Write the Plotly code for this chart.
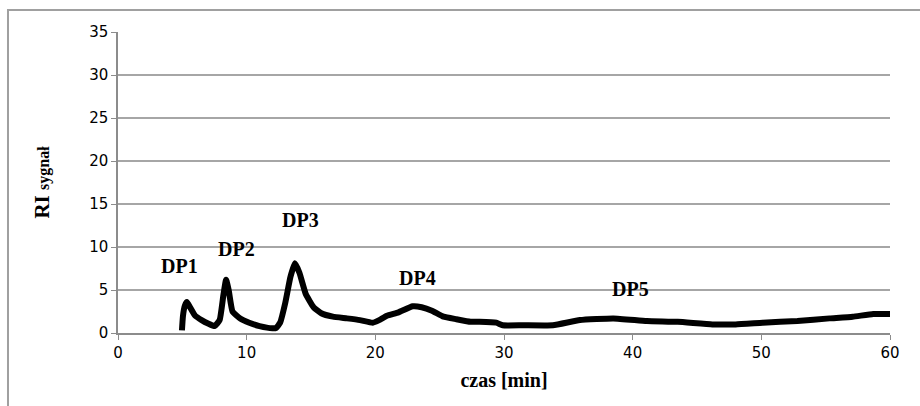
import plotly.graph_objects as go

czas = [4.97, 5.05, 5.2, 5.36, 5.6, 6.0, 6.5, 7.0, 7.5, 7.9, 8.2, 8.4, 8.6, 8.9, 9.5, 10.2, 11.0, 12.0, 12.3, 12.6, 13.0, 13.4, 13.75, 14.1, 14.6, 15.2, 15.8, 16.7, 17.8, 18.8, 19.8, 20.3, 20.9, 21.8, 22.9, 23.6, 24.4, 25.3, 26.3, 27.4, 28.1, 29.4, 29.9, 31.5, 33.8, 35.9, 38.5, 41.1, 43.5, 46.2, 48.0, 50.1, 52.8, 55.3, 57.1, 58.7, 60.0]
sygnal = [0.3, 2.0, 3.2, 3.6, 3.0, 2.0, 1.5, 1.1, 0.8, 1.5, 4.5, 6.2, 5.0, 2.5, 1.7, 1.2, 0.8, 0.55, 0.6, 1.2, 3.5, 6.5, 8.1, 7.0, 4.5, 3.0, 2.3, 1.9, 1.7, 1.5, 1.2, 1.5, 2.0, 2.4, 3.1, 3.0, 2.6, 1.9, 1.6, 1.3, 1.3, 1.2, 0.9, 0.9, 0.9, 1.5, 1.7, 1.4, 1.3, 1.0, 1.0, 1.2, 1.4, 1.7, 1.9, 2.2, 2.2]

etykiety = ["DP1", "DP2", "DP3", "DP4", "DP5"]
etykiety_x = [4.8, 9.2, 14.2, 23.3, 39.8]
etykiety_y = [7.8, 9.8, 13.1, 6.4, 5.1]

fig = go.Figure()
fig.add_trace(go.Scatter(x=czas, y=sygnal, mode="lines",
                         line=dict(color="black", width=6, shape="spline", smoothing=0.4),
                         showlegend=False))

for t, xx, yy in zip(etykiety, etykiety_x, etykiety_y):
    fig.add_annotation(x=xx, y=yy, text="<b>" + t + "</b>", showarrow=False,
                       font=dict(family="Liberation Serif", size=20, color="black"))

fig.add_shape(type="rect", xref="paper", yref="paper",
              x0=-0.1425, x1=1.045, y0=-0.256, y1=1.073,
              line=dict(color="#a0a0a0", width=2), layer="below")

fig.update_layout(
    width=920, height=406,
    margin=dict(l=118, r=30, t=32, b=73),
    paper_bgcolor="white", plot_bgcolor="white",
    font=dict(family="DejaVu Sans", size=15, color="black"),
    xaxis=dict(range=[0, 60], tickvals=[0, 10, 20, 30, 40, 50, 60],
               showgrid=False, showline=True, linecolor="#8c8c8c", linewidth=1.5,
               ticks="outside", ticklen=5, tickcolor="#8c8c8c", zeroline=False,
               tickfont=dict(size=15),
               title=dict(text="<b>czas [min]</b>", standoff=12,
                          font=dict(family="Liberation Serif", size=20))),
    yaxis=dict(range=[0, 35], tickvals=[0, 5, 10, 15, 20, 25, 30, 35],
               showgrid=True, gridcolor="#a6a6a6", gridwidth=1.5,
               showline=True, linecolor="#8c8c8c", linewidth=1.5,
               ticks="outside", ticklen=5, tickcolor="#8c8c8c", zeroline=False,
               tickfont=dict(size=15),
               title=dict(text="<b>RI <span style='font-size:16px'>sygnał</span></b>", standoff=34,
                          font=dict(family="Liberation Serif", size=21))),
)

fig.write_html("out.html")
